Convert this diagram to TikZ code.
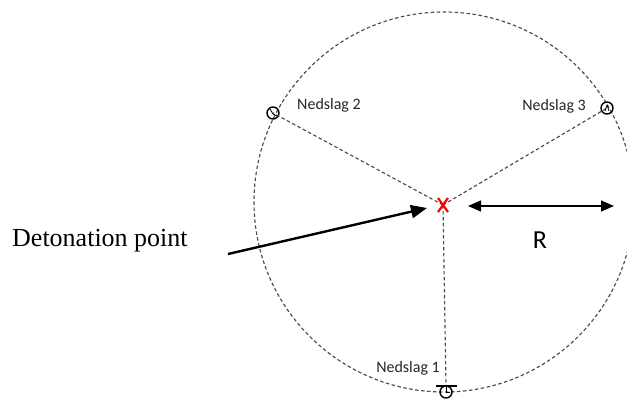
\documentclass[tikz,border=0pt]{standalone}
\usepackage{fontspec}
\setmainfont{Liberation Serif}
\newfontfamily\calib{Carlito}
\usetikzlibrary{arrows.meta}
\begin{document}
\begin{tikzpicture}[x=1pt,y=-1pt,
  guide/.style={draw=black!70, line width=1.15pt, dash pattern=on 3.5pt off 2.5pt},
  hit/.style={circle, draw=black, line width=1.4pt, minimum size=12pt, inner sep=0pt},
  hand/.style={draw=black, line width=0.8pt},
  lbl/.style={font=\calib\fontsize{16}{18}\selectfont, text=black!85, inner sep=0pt},
  bigarrow/.style={line width=2.4pt, -{Triangle[length=16pt,width=13pt]}},
  rarrow/.style={line width=1.2pt, {Triangle[length=13pt,width=11pt]}-{Triangle[length=13pt,width=11pt]}}]
\useasboundingbox (0,0) rectangle (627,401);
\coordinate (C) at (444,202);
\draw[guide] (C) circle[radius=190];
\coordinate (X) at (443,205);
\node[hit] (n1) at (446,392) {};
\node[hit] (n2) at (273,113) {};
\node[hit] (n3) at (607,108) {};
\draw[guide] (X) -- (n1.north);
\draw[guide] (X) -- (n2.center);
\draw[guide] (X) -- (n3.center);
% marker details
\draw[black, line width=1.1pt] (436,386) -- (457,386);
\draw[hand] (446,386) -- (446,392) -- (450,392);
\draw[hand] (270,109) -- (273,114) -- (277,116);
\draw[hand] (605,111) -- (607,105) -- (609,111);
% red cross
\draw[red, line width=2.2pt] (438,198) -- (448,212) (448,198) -- (438,212);
% labels
\node[lbl, anchor=base west] (l2) at (297,110) {Nedslag 2};
\node[lbl, anchor=base east] (l3) at (586,111) {Nedslag 3};
\node[lbl, anchor=base east] (l1) at (440,372.5) {Nedslag 1};
% detonation arrow
\node[anchor=base west, inner sep=0pt, font=\fontsize{26}{30}\selectfont] (dp) at (12,247) {Detonation point};
\coordinate (dstart) at (228,254);
\coordinate (dtip) at (427,208);
\draw[bigarrow] (dstart) -- (dtip);
% radius
\coordinate (ra) at (468,206);
\coordinate (rb) at (614,206);
\draw[rarrow] (ra) -- (rb);
\node[anchor=base, inner sep=0pt, font=\calib\fontsize{26}{30}\selectfont] (R) at (540,248) {R};
\end{tikzpicture}
\end{document}
